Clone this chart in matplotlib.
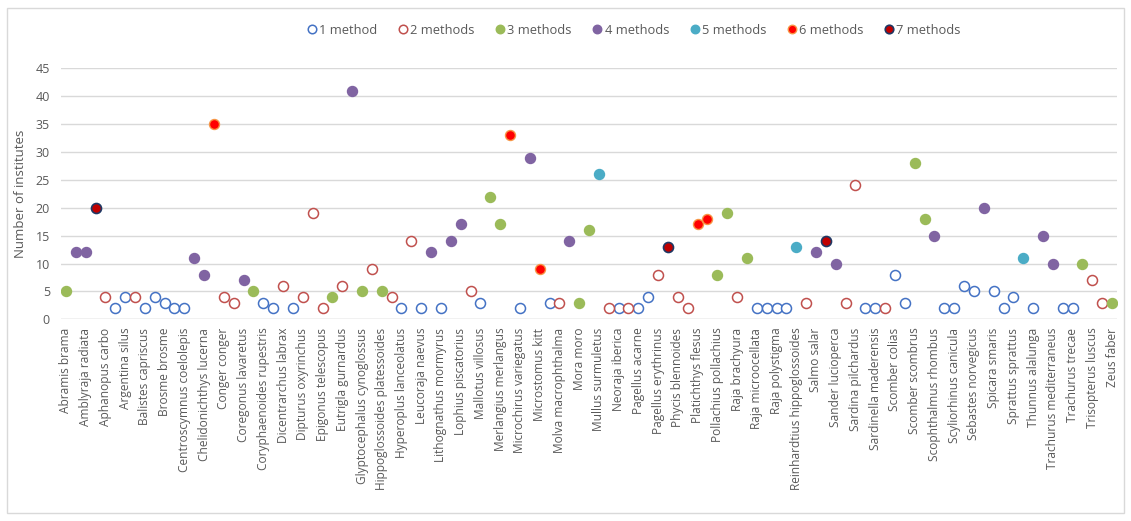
import matplotlib
matplotlib.use("Agg")
import matplotlib.pyplot as plt
from matplotlib.patches import Rectangle
import numpy as np

plt.rcParams['font.family'] = ['Open Sans', 'DejaVu Sans']

# Species names shown on the axis (Excel shows every second category)
shown_labels = [
    "Abramis brama", "Amblyraja radiata", "Aphanopus carbo", "Argentina silus",
    "Balistes capriscus", "Brosme brosme", "Centroscymnus coelolepis",
    "Chelidonichthys lucerna", "Conger conger", "Coregonus lavaretus",
    "Coryphaenoides rupestris", "Dicentrarchus labrax", "Dipturus oxyrinchus",
    "Epigonus telescopus", "Eutrigla gurnardus", "Glyptocephalus cynoglossus",
    "Hippoglossoides platessoides", "Hyperoplus lanceolatus", "Leucoraja naevus",
    "Lithognathus mormyrus", "Lophius piscatorius", "Mallotus villosus",
    "Merlangius merlangus", "Microchirus variegatus", "Microstomus kitt",
    "Molva macrophthalma", "Mora moro", "Mullus surmuletus", "Neoraja iberica",
    "Pagellus acarne", "Pagellus erythrinus", "Phycis blennoides",
    "Platichthys flesus", "Pollachius pollachius", "Raja brachyura",
    "Raja microocellata", "Raja polystigma", "Reinhardtius hippoglossoides",
    "Salmo salar", "Sander lucioperca", "Sardina pilchardus",
    "Sardinella maderensis", "Scomber colias", "Scomber scombrus",
    "Scophthalmus rhombus", "Scyliorhinus canicula", "Sebastes norvegicus",
    "Spicara smaris", "Sprattus sprattus", "Thunnus alalunga",
    "Trachurus mediterraneus", "Trachurus trecae", "Trisopterus luscus",
    "Zeus faber",
]

# Number of institutes per species (107 species, in axis order)
institutes = [
    5, 12, 12, 20, 4, 2, 4, 4, 2, 4, 3, 2, 2, 11, 8, 35, 4, 3, 7, 5,
    3, 2, 6, 2, 4, 19, 2, 4, 6, 41, 5, 9, 5, 4, 2, 14, 2, 12, 2, 14,
    17, 5, 3, 22, 17, 33, 2, 29, 9, 3, 3, 14, 3, 16, 26, 2, 2, 2, 2, 4,
    8, 13, 4, 2, 17, 18, 8, 19, 4, 11, 2, 2, 2, 2, 13, 3, 12, 14, 10, 3,
    24, 2, 2, 2, 8, 3, 28, 18, 15, 2, 2, 6, 5, 20, 5, 2, 4, 11, 2, 15,
    10, 2, 2, 10, 7, 3, 3,
]

# Number of methods used for each species
methods = [
    3, 4, 4, 7, 2, 1, 1, 2, 1, 1, 1, 1, 1, 4, 4, 6, 2, 2, 4, 3,
    1, 1, 2, 1, 2, 2, 2, 3, 2, 4, 3, 2, 3, 2, 1, 2, 1, 4, 1, 4,
    4, 2, 1, 3, 3, 6, 1, 4, 6, 1, 2, 4, 3, 3, 5, 2, 1, 2, 1, 1,
    2, 7, 2, 2, 6, 6, 3, 3, 2, 3, 1, 1, 1, 1, 5, 2, 4, 7, 4, 2,
    2, 1, 1, 2, 1, 1, 3, 3, 4, 1, 1, 1, 1, 4, 1, 1, 1, 5, 1, 4,
    4, 1, 1, 3, 2, 2, 3,
]

legend_names = ["1 method", "2 methods", "3 methods", "4 methods",
                "5 methods", "6 methods", "7 methods"]

styles = {
    1: dict(mfc="white", mec="#4472C4", mew=1.1),
    2: dict(mfc="white", mec="#C0504D", mew=1.1),
    3: dict(mfc="#9BBB59", mec="#9BBB59", mew=1.0),
    4: dict(mfc="#8064A2", mec="#8064A2", mew=1.0),
    5: dict(mfc="#4BACC6", mec="#4BACC6", mew=1.0),
    6: dict(mfc="#FF0000", mec="#F79646", mew=1.0),
    7: dict(mfc="#C00000", mec="#1F3864", mew=1.2),
}

W, H = 1131, 521
fig = plt.figure(figsize=(W / 100, H / 100), dpi=100)

# light chart-area border
fig.patches.append(Rectangle((7 / W, 8 / H), (1124 - 7) / W, (513 - 8) / H,
                             transform=fig.transFigure, fill=False,
                             edgecolor="#D9D9D9", linewidth=1.0))

ax = fig.add_axes([61 / W, 1 - 319.3 / H, (1117 - 61) / W, (319.3 - 68.3) / H])

x = np.arange(len(institutes))
vals = np.array(institutes)
meth = np.array(methods)

for m in range(1, 8):
    sel = meth == m
    ax.plot(x[sel], vals[sel], linestyle="none", marker="o", markersize=7.2,
            label=legend_names[m - 1], zorder=3, **styles[m])

ax.set_xlim(-0.5, len(institutes) - 0.5)
ax.set_ylim(0, 45)
ax.set_yticks(np.arange(0, 46, 5))
ax.yaxis.grid(True, color="#D9D9D9", linewidth=1.0)
ax.set_axisbelow(True)
for s in ["top", "right", "left", "bottom"]:
    ax.spines[s].set_visible(False)
ax.axhline(0, color="#D9D9D9", linewidth=1.0, zorder=1)

ax.set_xticks(x[::2])
ax.set_xticklabels(shown_labels, rotation=90, fontsize=8.6, color="#595959")
ax.tick_params(axis="x", length=0, pad=6)
ax.tick_params(axis="y", length=0, labelsize=9, labelcolor="#595959", pad=8)

ax.set_ylabel("Number of institutes", fontsize=9.5, color="#595959", labelpad=6)

leg = ax.legend(loc="center", bbox_to_anchor=((633 - 61) / 1056, (319.3 - 30) / 251),
                ncol=7, frameon=False, fontsize=9.3, handletextpad=0.05,
                columnspacing=1.5, handlelength=1.0, markerscale=0.85,
                labelcolor="#595959")

fig.savefig("out.png", dpi=100)
